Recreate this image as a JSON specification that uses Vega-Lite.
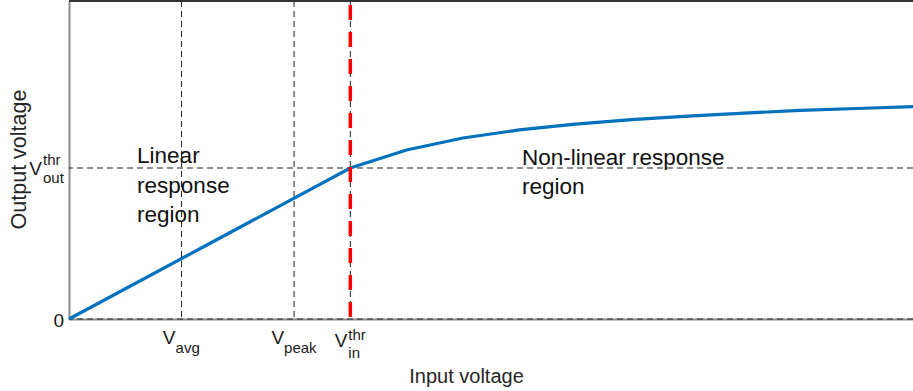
{
  "$schema": "https://vega.github.io/schema/vega-lite/v6.json",
  "width": 844,
  "height": 318,
  "autosize": {"type": "none"},
  "padding": {"left": 69, "top": 1, "right": 0, "bottom": 72},
  "background": "white",
  "config": {
    "view": {"stroke": null},
    "font": "Liberation Sans",
    "text": {"font": "Liberation Sans", "color": "#1a1a1a"},
    "axis": {
      "labels": false,
      "ticks": false,
      "grid": false,
      "domainColor": "#8c8c8c",
      "domainWidth": 2,
      "titleFont": "Liberation Sans",
      "titleFontSize": 20,
      "titleFontWeight": "normal",
      "titleColor": "#262626",
      "titleAlign": "center",
      "titleBaseline": "alphabetic"
    },
    "axisX": {"titleX": 397, "titleY": 63},
    "axisY": {"titleX": -44, "titleY": 158, "titleAngle": -90, "titleFontSize": 21.5}
  },
  "datasets": {
    "transfer": [
      {"x": 0, "y": 0},
      {"x": 0.5, "y": 0.5},
      {"x": 1.0, "y": 1.0},
      {"x": 1.2, "y": 1.119},
      {"x": 1.4, "y": 1.199},
      {"x": 1.6, "y": 1.252},
      {"x": 1.8, "y": 1.291},
      {"x": 2.0, "y": 1.321},
      {"x": 2.2, "y": 1.344},
      {"x": 2.4, "y": 1.364},
      {"x": 2.6, "y": 1.381},
      {"x": 2.8, "y": 1.394},
      {"x": 3.0, "y": 1.407}
    ],
    "inputMarks": [{"x": 0.4}, {"x": 0.8}, {"x": 1.0}],
    "outputMarks": [{"y": 0}, {"y": 1}],
    "threshold": [{"x": 1.0}],
    "frameTop": [{"y": 2.106}],
    "regions": [
      {"x": 0.242, "y": 1.033, "label": "Linear\nresponse\nregion"},
      {"x": 1.610, "y": 1.020, "label": "Non-linear response\nregion"}
    ],
    "symbols": [
      {"x": 0, "y": 0, "label": "0", "part": "zero"},
      {"x": 0, "y": 1, "label": "V", "part": "vout"},
      {"x": 0, "y": 1, "label": "thr", "part": "vout_sup"},
      {"x": 0, "y": 1, "label": "out", "part": "vout_sub"},
      {"x": 0.4, "y": 0, "label": "V", "part": "vavg"},
      {"x": 0.4, "y": 0, "label": "avg", "part": "vavg_sub"},
      {"x": 0.8, "y": 0, "label": "V", "part": "vpeak"},
      {"x": 0.8, "y": 0, "label": "peak", "part": "vpeak_sub"},
      {"x": 1.0, "y": 0, "label": "V", "part": "vin"},
      {"x": 1.0, "y": 0, "label": "thr", "part": "vin_sup"},
      {"x": 1.0, "y": 0, "label": "in", "part": "vin_sub"}
    ]
  },
  "encoding": {
    "x": {"field": "x", "type": "quantitative", "title": "Input voltage",
          "scale": {"domain": [0, 3], "nice": false, "zero": false}},
    "y": {"field": "y", "type": "quantitative", "title": "Output voltage",
          "scale": {"domain": [0, 2.106], "nice": false, "zero": false}}
  },
  "layer": [
    {
      "data": {"name": "inputMarks"},
      "mark": {"type": "rule", "color": "#222222", "strokeWidth": 1, "strokeDash": [6, 4]},
      "encoding": {"y": null}
    },
    {
      "data": {"name": "outputMarks"},
      "mark": {"type": "rule", "color": "#222222", "strokeWidth": 1, "strokeDash": [6, 4]},
      "encoding": {"x": null}
    },
    {
      "data": {"name": "transfer"},
      "mark": {"type": "line", "color": "#0072BD", "strokeWidth": 3.2}
    },
    {
      "data": {"name": "frameTop"},
      "mark": {"type": "rule", "color": "#333333", "strokeWidth": 2},
      "encoding": {"x": null}
    },
    {
      "data": {"name": "threshold"},
      "mark": {"type": "rule", "color": "#ff0000", "strokeWidth": 3.5, "strokeDash": [15, 12], "strokeDashOffset": 23},
      "encoding": {"y": null}
    },
    {
      "data": {"name": "regions"},
      "mark": {"type": "text", "align": "left", "baseline": "alphabetic", "fontSize": 22.5, "lineBreak": "\n", "lineHeight": 29.5, "color": "#111111"},
      "encoding": {"text": {"field": "label", "type": "nominal"}}
    },
    {
      "data": {"name": "symbols"},
      "transform": [{"filter": "datum.part === 'zero'"}],
      "mark": {"type": "text", "align": "right", "baseline": "alphabetic", "fontSize": 19, "dx": -5, "dy": 8},
      "encoding": {"text": {"field": "label", "type": "nominal"}}
    },
    {
      "data": {"name": "symbols"},
      "transform": [{"filter": "datum.part === 'vout'"}],
      "mark": {"type": "text", "align": "right", "baseline": "alphabetic", "fontSize": 19, "dx": -27, "dy": 7},
      "encoding": {"text": {"field": "label", "type": "nominal"}}
    },
    {
      "data": {"name": "symbols"},
      "transform": [{"filter": "datum.part === 'vout_sup'"}],
      "mark": {"type": "text", "align": "left", "baseline": "alphabetic", "fontSize": 15, "dx": -26, "dy": -3},
      "encoding": {"text": {"field": "label", "type": "nominal"}}
    },
    {
      "data": {"name": "symbols"},
      "transform": [{"filter": "datum.part === 'vout_sub'"}],
      "mark": {"type": "text", "align": "left", "baseline": "alphabetic", "fontSize": 15, "dx": -26, "dy": 15},
      "encoding": {"text": {"field": "label", "type": "nominal"}}
    },
    {
      "data": {"name": "symbols"},
      "transform": [{"filter": "datum.part === 'vavg'"}],
      "mark": {"type": "text", "align": "right", "baseline": "alphabetic", "fontSize": 19, "dx": -6, "dy": 25},
      "encoding": {"text": {"field": "label", "type": "nominal"}}
    },
    {
      "data": {"name": "symbols"},
      "transform": [{"filter": "datum.part === 'vavg_sub'"}],
      "mark": {"type": "text", "align": "left", "baseline": "alphabetic", "fontSize": 15, "dx": -6, "dy": 34},
      "encoding": {"text": {"field": "label", "type": "nominal"}}
    },
    {
      "data": {"name": "symbols"},
      "transform": [{"filter": "datum.part === 'vpeak'"}],
      "mark": {"type": "text", "align": "right", "baseline": "alphabetic", "fontSize": 19, "dx": -10, "dy": 25},
      "encoding": {"text": {"field": "label", "type": "nominal"}}
    },
    {
      "data": {"name": "symbols"},
      "transform": [{"filter": "datum.part === 'vpeak_sub'"}],
      "mark": {"type": "text", "align": "left", "baseline": "alphabetic", "fontSize": 15, "dx": -10, "dy": 34},
      "encoding": {"text": {"field": "label", "type": "nominal"}}
    },
    {
      "data": {"name": "symbols"},
      "transform": [{"filter": "datum.part === 'vin'"}],
      "mark": {"type": "text", "align": "right", "baseline": "alphabetic", "fontSize": 19, "dx": -3, "dy": 28},
      "encoding": {"text": {"field": "label", "type": "nominal"}}
    },
    {
      "data": {"name": "symbols"},
      "transform": [{"filter": "datum.part === 'vin_sup'"}],
      "mark": {"type": "text", "align": "left", "baseline": "alphabetic", "fontSize": 15, "dx": -2, "dy": 21},
      "encoding": {"text": {"field": "label", "type": "nominal"}}
    },
    {
      "data": {"name": "symbols"},
      "transform": [{"filter": "datum.part === 'vin_sub'"}],
      "mark": {"type": "text", "align": "left", "baseline": "alphabetic", "fontSize": 15, "dx": -2, "dy": 39},
      "encoding": {"text": {"field": "label", "type": "nominal"}}
    }
  ]
}
